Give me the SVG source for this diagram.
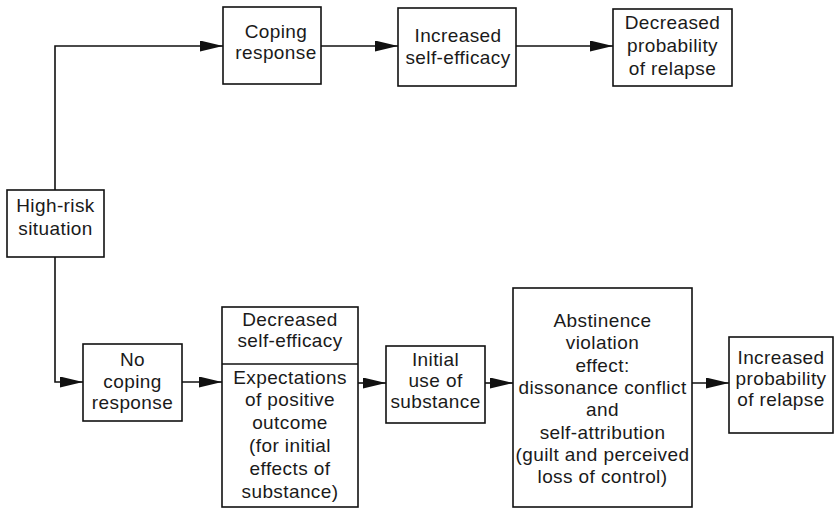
<svg xmlns="http://www.w3.org/2000/svg" width="836" height="511" viewBox="0 0 836 511">
  <defs>
    <marker id="arrow" markerUnits="userSpaceOnUse" markerWidth="23" markerHeight="12" refX="23" refY="5.5" orient="auto">
      <path d="M0,0 L23,5.5 L0,11 Z" fill="#111"/>
    </marker>
    <style>
      .box { fill: #fff; stroke: #111; stroke-width: 1.6; }
      .edge { fill: none; stroke: #111; stroke-width: 1.6; }
      text { font-family: "Liberation Sans", Arial, sans-serif; font-size: 19px; letter-spacing: 0.4px; fill: #1a1a1a; text-anchor: middle; }
    </style>
  </defs>
  <rect width="836" height="511" fill="#fff"/>

  <g id="connectors">
    <polyline class="edge" points="55,190 55,46 223,46" marker-end="url(#arrow)"/>
    <line class="edge" x1="321" y1="46" x2="398" y2="46" marker-end="url(#arrow)"/>
    <line class="edge" x1="516" y1="46" x2="613" y2="46" marker-end="url(#arrow)"/>
    <polyline class="edge" points="55,257 55,382 83,382" marker-end="url(#arrow)"/>
    <line class="edge" x1="182" y1="382" x2="222" y2="382" marker-end="url(#arrow)"/>
    <line class="edge" x1="358" y1="383" x2="386" y2="383" marker-end="url(#arrow)"/>
    <line class="edge" x1="485" y1="383" x2="513" y2="383" marker-end="url(#arrow)"/>
    <line class="edge" x1="692" y1="383" x2="729" y2="383" marker-end="url(#arrow)"/>
  </g>

  <g id="high-risk">
    <rect class="box" x="7" y="190" width="97" height="67"/>
    <text x="55.5" y="212">High-risk</text>
    <text x="55.5" y="235">situation</text>
  </g>

  <g id="coping-response">
    <rect class="box" x="223" y="7" width="98" height="77"/>
    <text x="276" y="38">Coping</text>
    <text x="276" y="59">response</text>
  </g>

  <g id="increased-self-efficacy">
    <rect class="box" x="398" y="8" width="118" height="78"/>
    <text x="458" y="42">Increased</text>
    <text x="458" y="64">self-efficacy</text>
  </g>

  <g id="decreased-probability">
    <rect class="box" x="613" y="9" width="119" height="77"/>
    <text x="672.5" y="29">Decreased</text>
    <text x="672.5" y="52">probability</text>
    <text x="672.5" y="75">of relapse</text>
  </g>

  <g id="no-coping-response">
    <rect class="box" x="83" y="344" width="99" height="77"/>
    <text x="132.5" y="366">No</text>
    <text x="132.5" y="387.5">coping</text>
    <text x="132.5" y="409">response</text>
  </g>

  <g id="self-efficacy-expectations">
    <rect class="box" x="222" y="307" width="136" height="200"/>
    <line class="edge" x1="222" y1="364" x2="358" y2="364"/>
    <text x="290" y="326">Decreased</text>
    <text x="290" y="347">self-efficacy</text>
    <text x="290" y="384">Expectations</text>
    <text x="290" y="406">of positive</text>
    <text x="290" y="429">outcome</text>
    <text x="290" y="452">(for initial</text>
    <text x="290" y="475">effects of</text>
    <text x="290" y="498">substance)</text>
  </g>

  <g id="initial-use">
    <rect class="box" x="386" y="346" width="99" height="77"/>
    <text x="435.5" y="366">Initial</text>
    <text x="435.5" y="387">use of</text>
    <text x="435.5" y="408">substance</text>
  </g>

  <g id="abstinence-violation">
    <rect class="box" x="513" y="288" width="179" height="219"/>
    <text x="602.5" y="327">Abstinence</text>
    <text x="602.5" y="349.3">violation</text>
    <text x="602.5" y="371.6">effect:</text>
    <text x="602.5" y="393.9">dissonance conflict</text>
    <text x="602.5" y="416.2">and</text>
    <text x="602.5" y="438.5">self-attribution</text>
    <text x="602.5" y="460.8">(guilt and perceived</text>
    <text x="602.5" y="483.1">loss of control)</text>
  </g>

  <g id="increased-probability">
    <rect class="box" x="729" y="337" width="104" height="96"/>
    <text x="781" y="364">Increased</text>
    <text x="781" y="385">probability</text>
    <text x="781" y="406">of relapse</text>
  </g>
</svg>
